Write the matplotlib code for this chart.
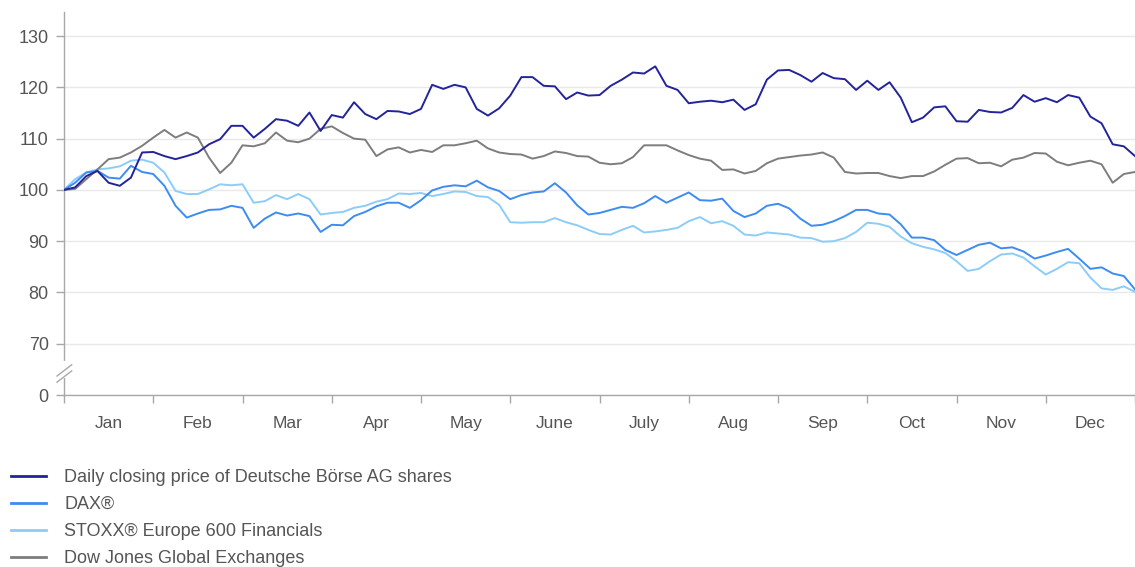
import numpy as np
import matplotlib
matplotlib.use("Agg")
import matplotlib.pyplot as plt
from matplotlib.lines import Line2D
from matplotlib.transforms import blended_transform_factory

# ---- data (index, start = 100), sampled every 1/8 month ----
months = ["Jan", "Feb", "Mar", "Apr", "May", "June", "July", "Aug", "Sep", "Oct", "Nov", "Dec"]
steps_per_month = 8

deutsche_boerse = [
    100, 100.5, 102.7, 103.7, 101.4, 100.8, 102.4, 107.3, 107.4, 106.6, 106, 106.6, 107.3, 108.9,
    109.9, 112.5, 112.5, 110.2, 111.9, 113.8, 113.5, 112.5, 115.1, 111.5, 114.6,
    114.1, 117.1, 114.8, 113.8, 115.4, 115.3, 114.8, 115.8, 120.5, 119.7, 120.5, 120, 115.8,
    114.5, 115.9, 118.4, 122, 122, 120.3, 120.2, 117.7, 119, 118.4, 118.5,
    120.3, 121.5, 122.9, 122.7, 124.1, 120.3, 119.5, 116.9, 117.2, 117.4, 117.1, 117.6, 115.6,
    116.7, 121.5, 123.3, 123.4, 122.4, 121.1, 122.8, 121.8, 121.6, 119.5, 121.3,
    119.5, 121, 118, 113.2, 114.1, 116.1, 116.3, 113.4, 113.3, 115.6, 115.2, 115.1, 116, 118.5,
    117.2, 117.9, 117.1, 118.5, 118, 114.3, 113, 108.9, 108.5, 106.6,
]
dax = [
    100, 101.4, 103.4, 103.7, 102.4, 102.2, 104.7, 103.5, 103.1, 100.8, 96.9, 94.6, 95.4, 96.1,
    96.2, 96.9, 96.5, 92.6, 94.4, 95.6, 95, 95.4, 94.9, 91.8, 93.2,
    93.1, 94.9, 95.7, 96.8, 97.5, 97.5, 96.5, 98, 99.9, 100.6, 100.9, 100.7, 101.8, 100.5,
    99.8, 98.2, 99, 99.5, 99.7, 101.3, 99.5, 97, 95.2, 95.5,
    96.1, 96.7, 96.5, 97.4, 98.8, 97.5, 98.5, 99.5, 98, 97.9, 98.3, 95.9, 94.7, 95.4, 96.9,
    97.3, 96.4, 94.4, 93, 93.2, 93.9, 94.9, 96.1, 96.1,
    95.4, 95.2, 93.3, 90.7, 90.7, 90.2, 88.3, 87.3, 88.3, 89.3, 89.7, 88.6, 88.8, 88, 86.6,
    87.2, 87.9, 88.5, 86.6, 84.6, 84.9, 83.7, 83.2, 80.6,
]
stoxx_financials = [
    100, 102.1, 103.4, 104, 104.2, 104.6, 105.7, 105.9, 105.3, 103.4, 99.8, 99.2, 99.2, 100.1,
    101.1, 100.9, 101.1, 97.5, 97.8, 99, 98.2, 99.2, 98.2, 95.2, 95.5,
    95.7, 96.5, 96.9, 97.7, 98.2, 99.3, 99.2, 99.4, 98.8, 99.2, 99.7, 99.6, 98.8, 98.6, 97.1,
    93.7, 93.6, 93.7, 93.7, 94.5, 93.7, 93.1, 92.2, 91.4,
    91.3, 92.2, 93, 91.7, 91.9, 92.2, 92.6, 93.9, 94.7, 93.5, 93.9, 93, 91.3, 91.1, 91.7,
    91.5, 91.3, 90.7, 90.6, 89.9, 90, 90.6, 91.8, 93.6,
    93.4, 92.8, 90.9, 89.6, 88.9, 88.4, 87.7, 86.1, 84.2, 84.6, 86.1, 87.4, 87.6, 86.8, 85.1,
    83.5, 84.6, 85.9, 85.7, 82.9, 80.8, 80.5, 81.2, 80.1,
]
dow_jones_exchanges = [
    100, 100.2, 102.1, 104, 106, 106.3, 107.3, 108.6, 110.2, 111.7, 110.2, 111.2, 110.2, 106.3,
    103.3, 105.3, 108.7, 108.5, 109.1, 111.2, 109.6, 109.3, 110, 111.9, 112.4,
    111.1, 110, 109.8, 106.6, 107.9, 108.3, 107.3, 107.8, 107.4, 108.7, 108.7, 109.1, 109.6,
    108.1, 107.3, 107, 106.9, 106.1, 106.6, 107.5, 107.2, 106.6, 106.5, 105.3,
    105, 105.2, 106.4, 108.7, 108.7, 108.7, 107.7, 106.8, 106.1, 105.7, 103.9, 104, 103.2,
    103.7, 105.2, 106.1, 106.4, 106.7, 106.9, 107.3, 106.3, 103.5, 103.2, 103.3,
    103.3, 102.7, 102.3, 102.7, 102.7, 103.6, 104.9, 106.1, 106.2, 105.2, 105.3, 104.6, 105.9,
    106.3, 107.2, 107.1, 105.5, 104.8, 105.3, 105.7, 105, 101.4, 103.1, 103.5,
]

labels = [
    "Daily closing price of Deutsche Börse AG shares",
    "DAX\u00ae",
    "STOXX\u00ae Europe 600 Financials",
    "Dow Jones Global Exchanges",
]
y_ticks = [60, 70, 80, 90, 100, 110, 120, 130]
y_tick_labels = ["0", "70", "80", "90", "100", "110", "120", "130"]

# ---- style ----
C_DB = "#23239b"
C_DAX = "#3d8cf0"
C_STOXX = "#8ccdf8"
C_DJ = "#7d7d7d"
TEXT = "#555555"
AXIS = "#a8a8a8"

plt.rcParams["font.family"] = ["Liberation Sans", "DejaVu Sans"]

W, H = 1135, 567
fig = plt.figure(figsize=(W / 100, H / 100), dpi=100)
ax = fig.add_axes([64 / W, 1 - 395 / H, 1 - 64 / W, (395 - 12) / H])

t = np.arange(len(deutsche_boerse)) / steps_per_month
lw = 1.4
ax.plot(t, stoxx_financials, color=C_STOXX, lw=lw, zorder=3)
ax.plot(t, dax, color=C_DAX, lw=lw, zorder=4)
ax.plot(t, dow_jones_exchanges, color=C_DJ, lw=lw, zorder=5)
ax.plot(t, deutsche_boerse, color=C_DB, lw=lw, zorder=6)

ax.set_xlim(0, 12)
ax.set_ylim(60, 134.7)

ax.set_yticks(y_ticks)
ax.set_yticklabels(y_tick_labels)
ax.yaxis.grid(True, color="#e9e9e9", lw=1.0, zorder=0)
ax.tick_params(axis="y", length=6, width=1, color=AXIS, labelsize=13, labelcolor=TEXT, pad=5)

ax.set_xticks(np.arange(0, 13))
ax.set_xticklabels([])
ax.set_xticks(np.arange(12) + 0.5, minor=True)
ax.set_xticklabels(months, minor=True)
ax.tick_params(axis="x", which="major", length=6, width=1, color=AXIS)
ax.tick_params(axis="x", which="minor", length=0, labelsize=12.5, labelcolor=TEXT, pad=15)

for s in ("top", "right"):
    ax.spines[s].set_visible(False)
for s in ("left", "bottom"):
    ax.spines[s].set_color(AXIS)
    ax.spines[s].set_linewidth(1)

# axis break marker
tr = blended_transform_factory(ax.transAxes, ax.transData)
dx = 7 / (W - 64)
ax.plot([0, 0], [63.8, 66.2], transform=tr, color="white", lw=3, clip_on=False, zorder=7)
for yc in (63.6, 64.8):
    ax.plot([-dx, dx * 1.1], [yc - 1.1, yc + 1.1], transform=tr, color=AXIS, lw=1,
            clip_on=False, zorder=8)

handles = [Line2D([], [], color=c, lw=2) for c in (C_DB, C_DAX, C_STOXX, C_DJ)]
leg = fig.legend(handles, labels, loc="upper left", bbox_to_anchor=(4 / W, 1 - 462 / H),
                 frameon=False, fontsize=13, handlelength=1.95, handletextpad=1.0,
                 labelspacing=0.55, borderaxespad=0)
for txt in leg.get_texts():
    txt.set_color(TEXT)

fig.savefig("out.png", dpi=100)
